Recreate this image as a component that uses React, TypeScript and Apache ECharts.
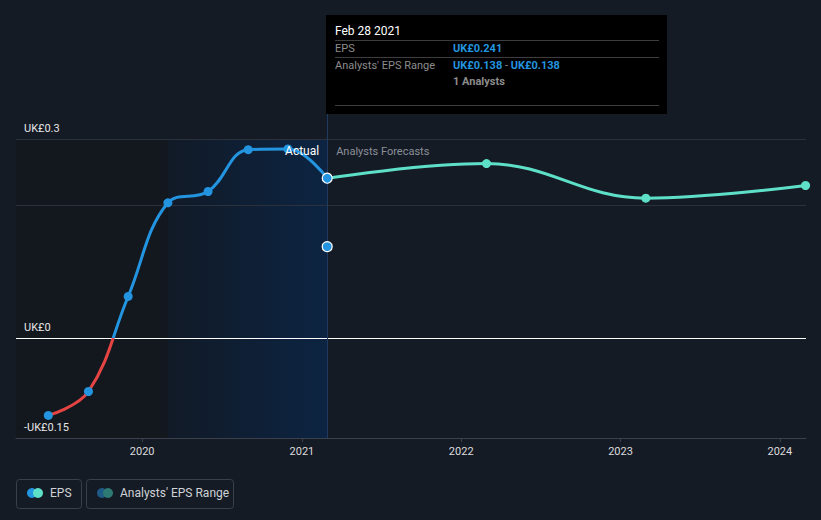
import React, { useEffect, useRef } from 'react';
import * as echarts from 'echarts';

const actualDates = ['2019-05-31', '2019-08-31', '2019-11-30', '2020-02-29', '2020-05-31', '2020-08-31', '2020-11-30', '2021-02-28'];
const actualEps = [-0.116, -0.08, 0.063, 0.204, 0.221, 0.284, 0.285, 0.241];
const forecastDates = ['2021-02-28', '2022-02-28', '2023-02-28', '2024-02-29'];
const forecastEps = [0.241, 0.263, 0.211, 0.23];
const rangeDates = ['2021-02-28'];
const rangeLow = [0.138];
const rangeHigh = [0.138];
const analystCount = [1];
const yearTicks = ['2020-01-01', '2021-01-01', '2022-01-01', '2023-01-01', '2024-01-01'];
const pastStart = '2019-03-18';
const shadeStart = '2020-02-29';
const axisEnd = '2024-03-01';
const yTickLabels: Record<string, string> = { '0.3': 'UK£0.3', '0': 'UK£0', '-0.15': '-UK£0.15' };

const ts = (d: string) => new Date(d + 'T00:00:00Z').getTime();
const FONT = 'Roboto, sans-serif';
const BG = '#151b25';
const BLUE = '#2394df';
const TEAL = '#5ee0c8';
const RED = '#e64343';
const MONTHS = ['Jan', 'Feb', 'Mar', 'Apr', 'May', 'Jun', 'Jul', 'Aug', 'Sep', 'Oct', 'Nov', 'Dec'];
const fmtDate = (d: string) => {
  const dt = new Date(d + 'T00:00:00Z');
  return `${MONTHS[dt.getUTCMonth()]} ${dt.getUTCDate()} ${dt.getUTCFullYear()}`;
};
const money = (v: number) => (v < 0 ? '-' : '') + 'UK£' + Math.abs(v).toFixed(3);

export default function App() {
  const ref = useRef<HTMLDivElement>(null);
  useEffect(() => {
    const chart = echarts.init(ref.current!, null, { renderer: 'svg' });
    const actual = actualDates.map((d, i) => [ts(d), actualEps[i]]);
    const forecast = forecastDates.map((d, i) => [ts(d), forecastEps[i]]);
    const lastActual = actual[actual.length - 1];
    const range = rangeDates.map((d, i) => [ts(d), rangeLow[i]]);
    const splitColors = ['transparent', 'transparent', 'transparent', '#ffffff', 'transparent', 'transparent', 'transparent', '#2b313c', 'transparent', '#2b313c'];
    const tickVals = yearTicks.map(ts);

    chart.setOption({
      animation: false,
      backgroundColor: BG,
      textStyle: { fontFamily: FONT },
      grid: { left: 16, right: 15, top: 139, bottom: 82 },
      xAxis: {
        type: 'value',
        min: ts(pastStart),
        max: ts(axisEnd),
        splitLine: { show: false },
        axisLine: { onZero: false, lineStyle: { color: '#3b414c' } },
        axisTick: { show: true, length: 4, lineStyle: { color: '#3b414c' }, customValues: tickVals },
        axisLabel: {
          color: '#dcdcdc', fontSize: 11, margin: 8, fontFamily: FONT,
          customValues: tickVals,
          formatter: (v: number) => String(new Date(v).getUTCFullYear()),
        },
      },
      yAxis: {
        type: 'value', min: -0.15, max: 0.3, interval: 0.05,
        axisLine: { show: false }, axisTick: { show: false },
        splitLine: { show: true, lineStyle: { color: splitColors, width: 1 } },
        axisLabel: {
          inside: true, margin: 8, color: '#e6e6e6', fontSize: 11, fontFamily: FONT,
          verticalAlign: 'bottom', padding: [0, 0, 5, 0],
          formatter: (v: number) => {
            const key = String(Math.round(v * 100) / 100);
            return yTickLabels[key] || '';
          },
        },
      },
      series: [
        {
          id: 'actualLine', type: 'line', data: actual, smooth: 0.4, showSymbol: false, symbol: 'none',
          lineStyle: { width: 3, color: BLUE }, z: 3,
        },
        {
          type: 'scatter', data: actual.slice(0, -1), symbolSize: 9,
          itemStyle: { color: BLUE, opacity: 1 }, z: 4,
        },
        {
          type: 'line', data: forecast, smooth: 0.4, symbol: 'circle', symbolSize: 9,
          lineStyle: { width: 3, color: TEAL }, itemStyle: { color: TEAL, opacity: 1 }, z: 3,
        },
        {
          type: 'scatter', data: range, symbolSize: 10,
          itemStyle: { color: BLUE, borderColor: '#ffffff', borderWidth: 1.2, opacity: 1 }, z: 5,
        },
        {
          type: 'scatter', data: [lastActual], symbolSize: 10,
          itemStyle: { color: BLUE, borderColor: '#ffffff', borderWidth: 1.2, opacity: 1 }, z: 6,
        },
      ],
    });

    const xp = (d: string) => chart.convertToPixel({ xAxisIndex: 0 }, ts(d)) as number;
    const yp = (v: number) => chart.convertToPixel({ yAxisIndex: 0 }, v) as number;
    const px = xp(rangeDates[0]);
    const xStart = xp(pastStart);
    const xShade = xp(shadeStart);
    const yTop = yp(0.3);
    const yBottom = yp(-0.15);
    const yZero = yp(0);
    const zeroOff = (yZero - yTop) / (yBottom - yTop);
    const rx = Math.round(px) - 1;
    const tipTop = 15;
    const tipH = 99;
    const c0 = rx + 9;
    const c1 = rx + 127;
    const sep = (y: number) => ({
      type: 'line', shape: { x1: c0, y1: y, x2: rx + 333, y2: y },
      style: { stroke: '#3d3d3d', lineWidth: 1 },
    });
    const txt = (x: number, y: number, text: string, fill: string, weight: any = 'normal', extra: any = {}) => ({
      type: 'text', x, y,
      style: { text, fill, font: `${weight} 11px ${FONT}`, textVerticalAlign: 'middle', ...extra },
    });

    const lineGrad = new echarts.graphic.LinearGradient(0, yTop, 0, yBottom, [
      { offset: 0, color: BLUE },
      { offset: zeroOff, color: BLUE },
      { offset: zeroOff, color: RED },
      { offset: 1, color: RED },
    ], true);

    chart.setOption({
      series: [{ id: 'actualLine', lineStyle: { color: lineGrad } }],
      graphic: [
        {
          type: 'rect', z: -10, silent: true,
          shape: { x: xStart, y: yTop, width: xShade - xStart, height: yBottom - yTop },
          style: { fill: '#13171e' },
        },
        {
          type: 'rect', z: -10, silent: true,
          shape: { x: xShade, y: yTop, width: px - xShade, height: yBottom - yTop },
          style: {
            fill: new echarts.graphic.LinearGradient(0, 0, 1, 0, [
              { offset: 0, color: '#111a27' },
              { offset: 1, color: '#0c2442' },
            ]),
          },
        },
        {
          type: 'line', shape: { x1: Math.round(px) + 0.5, y1: tipTop + tipH, x2: Math.round(px) + 0.5, y2: yBottom },
          style: { stroke: '#1f3a5e', lineWidth: 1 }, z: 1,
        },
        { type: 'rect', shape: { x: rx, y: tipTop, width: 341, height: tipH }, style: { fill: '#000000' }, z: 10 },
        { ...txt(c0, 31, fmtDate(rangeDates[0]), '#ffffff', 'normal', { font: `normal 12px ${FONT}` }), z: 11 },
        { ...sep(40.5), z: 11 },
        { ...txt(c0, 48, 'EPS', '#8c8c8c'), z: 11 },
        { ...txt(c1, 48, money(actualEps[actualEps.length - 1]), BLUE, 'bold'), z: 11 },
        { ...sep(57.5), z: 11 },
        { ...txt(c0, 65, "Analysts' EPS Range", '#8c8c8c'), z: 11 },
        {
          type: 'text', x: c1, y: 65, z: 11,
          style: {
            text: `{v|${money(rangeLow[0])}}{s| - }{v|${money(rangeHigh[0])}}`,
            textVerticalAlign: 'middle',
            rich: {
              v: { fill: BLUE, fontWeight: 'bold', fontSize: 11, fontFamily: FONT },
              s: { fill: '#8c8c8c', fontSize: 11, fontFamily: FONT },
            },
          },
        },
        { ...txt(c1, 81, `${analystCount[0]} Analysts`, '#8c8c8c', 'bold'), z: 11 },
        { ...sep(105.5), z: 11 },
        { ...txt(px - 8, yTop + 12, 'Actual', '#ffffff', 'normal', { textAlign: 'right', font: `normal 12px ${FONT}` }), z: 7 },
        { ...txt(px + 9, yTop + 12, 'Analysts Forecasts', '#8a8f98', 'normal', { font: `normal 11px ${FONT}` }), z: 7 },
        { type: 'rect', shape: { x: 16.5, y: 479.5, width: 65, height: 29, r: 3 }, style: { fill: 'transparent', stroke: '#3a404b', lineWidth: 1 } },
        { type: 'circle', shape: { cx: 32, cy: 493, r: 5 }, style: { fill: BLUE } },
        { type: 'circle', shape: { cx: 38, cy: 493, r: 5 }, style: { fill: TEAL } },
        txt(50, 493, 'EPS', '#cfd2d6', 'normal', { font: `normal 12px ${FONT}` }),
        { type: 'rect', shape: { x: 86.5, y: 479.5, width: 147, height: 29, r: 3 }, style: { fill: 'transparent', stroke: '#3a404b', lineWidth: 1 } },
        { type: 'circle', shape: { cx: 102, cy: 493, r: 5 }, style: { fill: '#1e5a86' } },
        { type: 'circle', shape: { cx: 108, cy: 493, r: 5 }, style: { fill: '#2d7a75' } },
        txt(120, 493, "Analysts' EPS Range", '#cfd2d6', 'normal', { font: `normal 12px ${FONT}` }),
      ],
    });

    return () => chart.dispose();
  }, []);
  return <div ref={ref} style={{ position: 'absolute', left: 0, top: 0, width: 821, height: 520 }} />;
}
